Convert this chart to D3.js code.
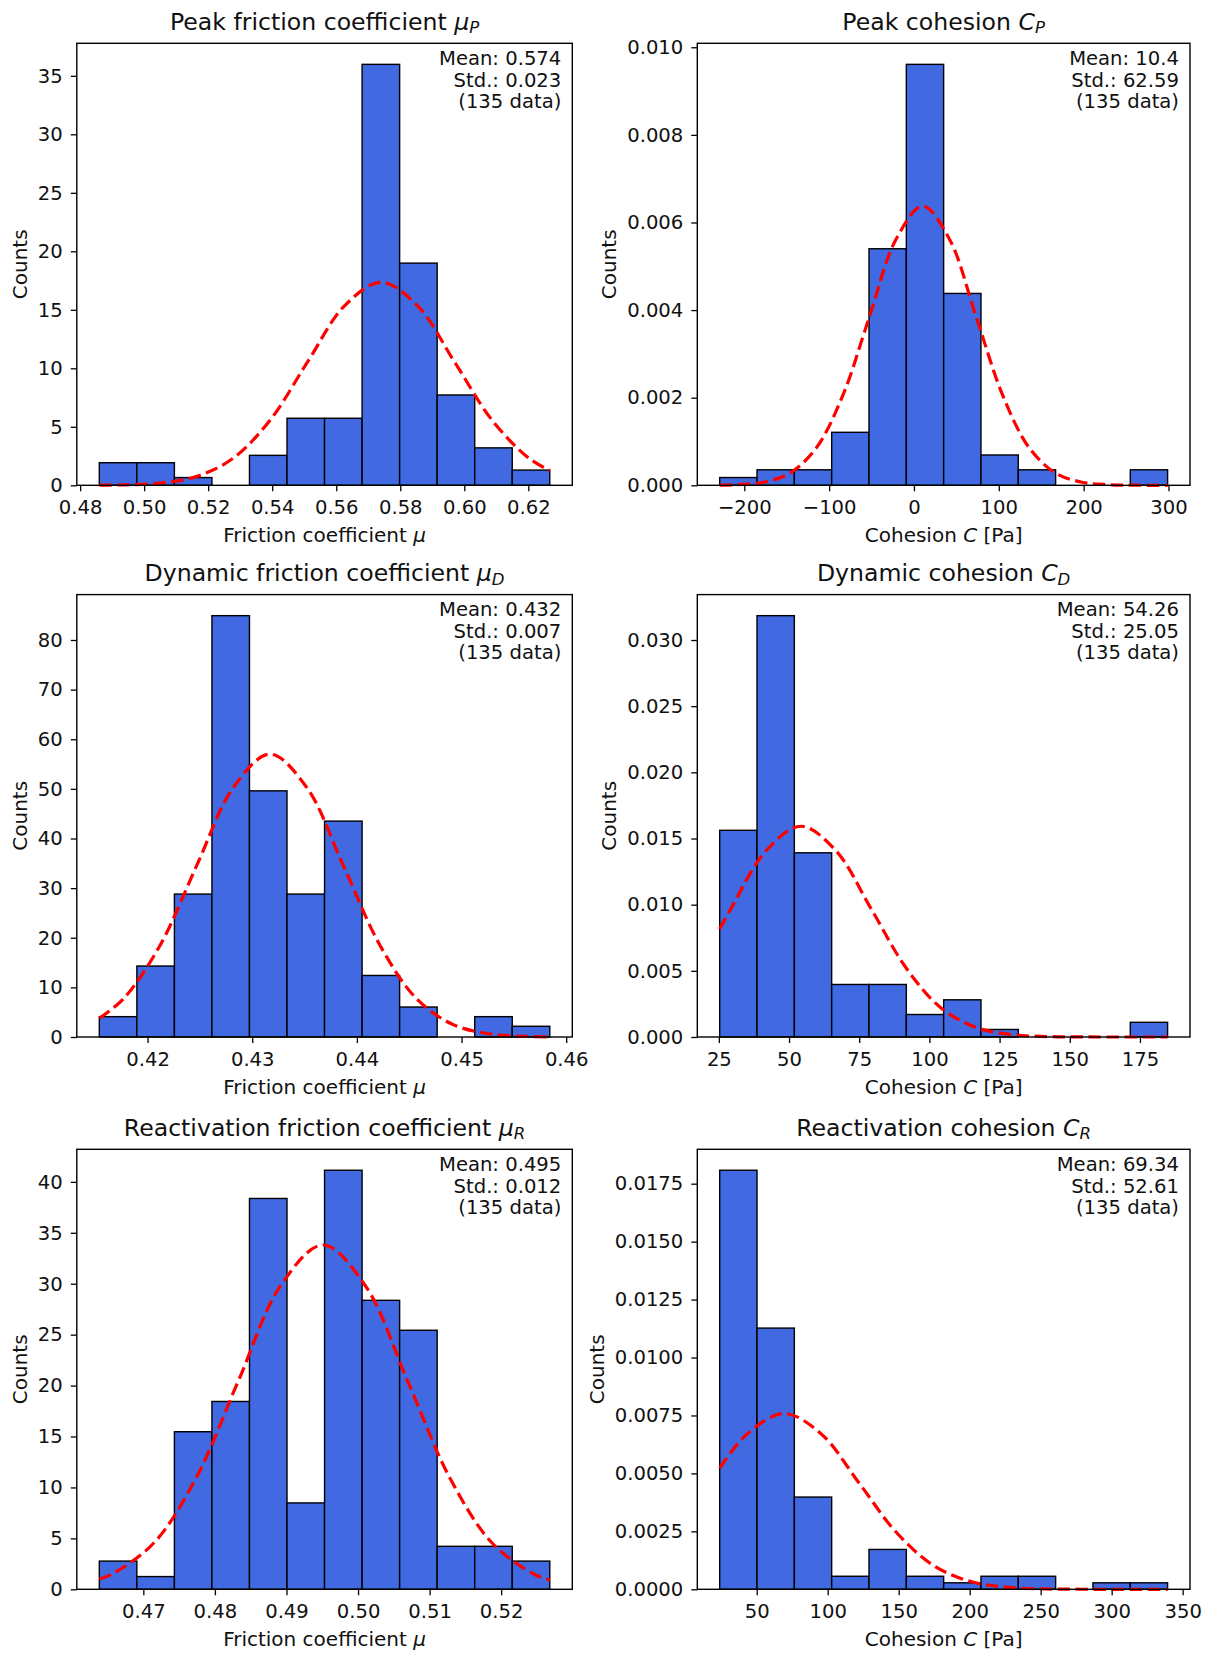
<!DOCTYPE html>
<html>
<head>
<meta charset="utf-8">
<script src="https://cdn.jsdelivr.net/npm/d3@7"></script>
<style>
  html, body { margin: 0; padding: 0; background: #ffffff; }
  svg { display: block; font-family: "DejaVu Sans", sans-serif; }
</style>
</head>
<body>
<script>
// ---------------- DATA ----------------
const titleText  = ["Peak friction coefficient ", "Peak cohesion ", "Dynamic friction coefficient ",
                    "Dynamic cohesion ", "Reactivation friction coefficient ", "Reactivation cohesion "];
const titleSymbol = ["μ", "C", "μ", "C", "μ", "C"];
const titleSub    = ["P", "P", "D", "D", "R", "R"];

const xLabelPrefix = ["Friction coefficient ", "Cohesion ", "Friction coefficient ", "Cohesion ", "Friction coefficient ", "Cohesion "];
const xLabelSymbol = ["μ", "C", "μ", "C", "μ", "C"];
const xLabelSuffix = ["", " [Pa]", "", " [Pa]", "", " [Pa]"];
const yLabel = "Counts";

const meanText = ["0.574", "10.4", "0.432", "54.26", "0.495", "69.34"];
const stdText  = ["0.023", "62.59", "0.007", "25.05", "0.012", "52.61"];
const nData    = [135, 135, 135, 135, 135, 135];

// histogram range (first edge, last edge); 12 equal bins each
const binMin = [0.486, -229, 0.41539, 25.3, 0.46385, 23.94];
const binMax = [0.6267, 299, 0.45843, 184.85, 0.52679, 339.4];

// bar heights (density)
const peakMuHeights = [1.93, 1.93, 0.66, 0, 2.56, 5.73, 5.73, 35.98, 18.99, 7.72, 3.2, 1.3];
const peakCHeights  = [0.000177, 0.000354, 0.000354, 0.00121, 0.0054, 0.00961, 0.00438, 0.000692, 0.000354, 0, 0, 0.000354];
const dynMuHeights  = [4.1, 14.3, 28.8, 84.9, 49.6, 28.8, 43.5, 12.4, 6.04, 0, 4.1, 2.16];
const dynCHeights   = [0.01562, 0.03184, 0.01392, 0.00397, 0.00397, 0.0017, 0.00281, 0.00057, 0, 0, 0, 0.00111];
const reaMuHeights  = [2.77, 1.25, 15.47, 18.44, 38.37, 8.48, 41.14, 28.37, 25.43, 4.22, 4.22, 2.77];
const reaCHeights   = [0.01808, 0.01127, 0.00398, 0.000563, 0.00172, 0.000563, 0.00028, 0.000563, 0.000563, 0, 0.00028, 0.00028];

// fitted normal curve [x, y]
const peakMuCurve = [[0.486,0.01],[0.4935,0.038],[0.505,0.193],[0.5165,0.762],[0.528,2.35],[0.5395,5.63],[0.551,10.52],
  [0.5625,15.31],[0.574,17.35],[0.5855,15.31],[0.597,10.52],[0.6085,5.63],[0.620,2.35],[0.6267,1.26]];
const peakCCurve = [[-229,0.000004],[-208.7,0.000014],[-177.4,0.000071],[-146.1,0.00028],[-114.8,0.000862],[-83.5,0.00207],
  [-52.2,0.003866],[-20.9,0.005625],[10.4,0.006374],[41.7,0.005625],[73.0,0.003866],[104.3,0.00207],[135.6,0.000862],
  [166.9,0.00028],[198.2,0.000071],[229.5,0.000014],[260.8,0.000002],[299,0]];
const dynMuCurve = [[0.41539,3.79],[0.4177,7.71],[0.4212,18.50],[0.4247,34.57],[0.4282,50.30],[0.4317,56.99],[0.4352,50.30],
  [0.4387,34.57],[0.4422,18.50],[0.4457,7.71],[0.4492,2.50],[0.4527,0.63],[0.4562,0.125],[0.45843,0.04]];
const dynCCurve = [[25.3,0.008166],[29.21,0.00966],[41.74,0.014055],[54.26,0.015927],[66.79,0.014055],[79.31,0.00966],
  [91.84,0.005172],[104.36,0.002155],[116.89,0.0007],[129.41,0.000177],[141.94,0.000035],[154.46,0.000005],[184.85,0]];
const reaMuCurve = [[0.46385,1.01],[0.4656,1.48],[0.4715,4.57],[0.4774,10.97],[0.4833,20.50],[0.4892,29.83],[0.4951,33.8],
  [0.5010,29.83],[0.5069,20.50],[0.5128,10.97],[0.5187,4.57],[0.5246,1.48],[0.52679,0.92]];
const reaCCurve = [[23.94,0.005225],[43.04,0.006692],[69.34,0.007583],[95.65,0.006692],[121.95,0.004599],[148.26,0.002462],
  [174.56,0.001026],[200.87,0.000333],[227.17,0.000084],[253.48,0.000017],[279.78,0.0000025],[339.4,0]];

// tick labels
const xTicks = [
  [0.48, 0.50, 0.52, 0.54, 0.56, 0.58, 0.60, 0.62],
  [-200, -100, 0, 100, 200, 300],
  [0.42, 0.43, 0.44, 0.45, 0.46],
  [25, 50, 75, 100, 125, 150, 175],
  [0.47, 0.48, 0.49, 0.50, 0.51, 0.52],
  [50, 100, 150, 200, 250, 300, 350]
];
const xTickFormat = [".2f", "d", ".2f", "d", ".2f", "d"];
const yTicks = [
  [0, 5, 10, 15, 20, 25, 30, 35],
  [0, 0.002, 0.004, 0.006, 0.008, 0.010],
  [0, 10, 20, 30, 40, 50, 60, 70, 80],
  [0, 0.005, 0.010, 0.015, 0.020, 0.025, 0.030],
  [0, 5, 10, 15, 20, 25, 30, 35, 40],
  [0, 0.0025, 0.0050, 0.0075, 0.0100, 0.0125, 0.0150, 0.0175]
];
const yTickFormat = ["d", ".3f", "d", ".3f", "d", ".4f"];

const heights = [peakMuHeights, peakCHeights, dynMuHeights, dynCHeights, reaMuHeights, reaCHeights];
const curves  = [peakMuCurve, peakCCurve, dynMuCurve, dynCCurve, reaMuCurve, reaCCurve];

// ---------------- LAYOUT ----------------
const W = 1212, H = 1654;
const colLeft  = [76.8, 697.3];
const colRight = [572.3, 1190];
const rowTop    = [43.3, 594.6, 1149.3];
const rowBottom = [485.3, 1037, 1589.3];
const FS = 19.6, LABEL_FS = 20, TITLE_FS = 23.6;
const NBINS = 12;

const svg = d3.select("body").append("svg")
  .attr("width", W).attr("height", H)
  .attr("viewBox", `0 0 ${W} ${H}`);
svg.append("rect").attr("width", W).attr("height", H).attr("fill", "#fff");

for (let i = 0; i < 6; i++) {
  const row = Math.floor(i / 2), col = i % 2;
  const L = colLeft[col], R = colRight[col], T = rowTop[row], B = rowBottom[row];
  const span = binMax[i] - binMin[i];
  const x = d3.scaleLinear().domain([binMin[i] - 0.05 * span, binMax[i] + 0.05 * span]).range([L, R]);
  const y = d3.scaleLinear().domain([0, 1.05 * d3.max(heights[i])]).range([B, T]);
  const bw = span / NBINS;

  const g = svg.append("g");

  // bars
  g.append("g").selectAll("rect")
    .data(heights[i].map((h, j) => ({h, j})).filter(d => d.h > 0))
    .join("rect")
    .attr("x", d => x(binMin[i] + d.j * bw))
    .attr("width", d => x(binMin[i] + (d.j + 1) * bw) - x(binMin[i] + d.j * bw))
    .attr("y", d => y(d.h))
    .attr("height", d => y(0) - y(d.h))
    .attr("fill", "#4169e1")
    .attr("stroke", "#000")
    .attr("stroke-width", 1.4);

  // normal curve
  const line = d3.line().x(d => x(d[0])).y(d => y(d[1])).curve(d3.curveCatmullRom.alpha(0.5));
  g.append("path")
    .attr("d", line(curves[i]))
    .attr("fill", "none")
    .attr("stroke", "#ff0000")
    .attr("stroke-width", 3.2)
    .attr("stroke-dasharray", "12.5,5.5");

  // axes
  const xAxis = d3.axisBottom(x).tickValues(xTicks[i]).tickFormat(d3.format(xTickFormat[i]))
    .tickSize(6).tickPadding(9);
  const yAxis = d3.axisLeft(y).tickValues(yTicks[i]).tickFormat(d3.format(yTickFormat[i]))
    .tickSize(6).tickPadding(8);
  const gx = g.append("g").attr("transform", `translate(0,${B})`).call(xAxis);
  const gy = g.append("g").attr("transform", `translate(${L},0)`).call(yAxis);
  [gx, gy].forEach(a => {
    a.select(".domain").remove();
    a.selectAll(".tick line").attr("stroke", "#000").attr("stroke-width", 1.3);
    a.selectAll(".tick text").attr("fill", "#111").style("font-size", FS + "px")
      .style("font-family", "'DejaVu Sans', sans-serif");
  });

  // frame
  g.append("rect").attr("x", L).attr("y", T).attr("width", R - L).attr("height", B - T)
    .attr("fill", "none").attr("stroke", "#000").attr("stroke-width", 1.4);

  // title
  const tt = g.append("text").attr("x", (L + R) / 2).attr("y", T - 13.5)
    .attr("text-anchor", "middle").style("font-size", TITLE_FS + "px").attr("fill", "#111");
  tt.append("tspan").text(titleText[i]);
  tt.append("tspan").attr("font-style", "italic").text(titleSymbol[i]);
  tt.append("tspan").attr("font-style", "italic").style("font-size", (TITLE_FS * 0.7) + "px")
    .attr("dy", "0.22em").text(titleSub[i]);

  // x label
  const xl = g.append("text").attr("x", (L + R) / 2).attr("y", B + 56.5)
    .attr("text-anchor", "middle").style("font-size", LABEL_FS + "px").attr("fill", "#111");
  xl.append("tspan").text(xLabelPrefix[i]);
  xl.append("tspan").attr("font-style", "italic").text(xLabelSymbol[i]);
  if (xLabelSuffix[i]) xl.append("tspan").text(xLabelSuffix[i]);

  // y label, placed left of the widest tick label
  let minX = L;
  gy.selectAll(".tick text").each(function () {
    const bb = this.getBBox();
    const m = this.getCTM();
    const bx = m ? m.e + bb.x : L + bb.x;
    if (bx < minX) minX = bx;
  });
  g.append("text")
    .attr("transform", `translate(${minX - 11},${(T + B) / 2}) rotate(-90)`)
    .attr("text-anchor", "middle").style("font-size", LABEL_FS + "px").attr("fill", "#111")
    .text(yLabel);

  // annotation
  const lines = ["Mean: " + meanText[i], "Std.: " + stdText[i], "(" + nData[i] + " data)"];
  g.append("g").selectAll("text").data(lines).join("text")
    .attr("x", R - 11)
    .attr("y", (d, k) => T + 21.7 + k * 21.5)
    .attr("text-anchor", "end")
    .style("font-size", FS + "px")
    .attr("fill", "#111")
    .text(d => d);
}
</script>
</body>
</html>
